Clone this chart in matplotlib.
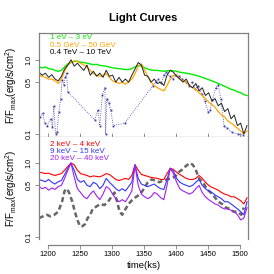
import numpy as np
import matplotlib
matplotlib.use("Agg")
import matplotlib.pyplot as plt

plt.rcParams['font.family'] = ['Liberation Sans', 'DejaVu Sans']
plt.rcParams['mathtext.fontset'] = 'custom'
plt.rcParams['mathtext.rm'] = 'Liberation Sans'
plt.rcParams['mathtext.it'] = 'Liberation Sans'

# общая сетка времени (ks)
time = np.arange(1186, 1512, 5)

# верхняя панель
optical = [0.8, 0.78, 0.8, 0.76, 0.75, 0.72, 0.7, 0.72, 0.8, 0.88, 0.92,
           0.95, 0.96, 0.93, 0.92, 0.9, 0.88, 0.86, 0.87, 0.84, 0.83, 0.82,
           0.8, 0.78, 0.77, 0.76, 0.75, 0.74, 0.74, 0.76, 0.8, 0.84, 0.82,
           0.78, 0.75, 0.73, 0.72, 0.72, 0.71, 0.7, 0.71, 0.72, 0.71, 0.7,
           0.68, 0.67, 0.66, 0.65, 0.63, 0.62, 0.6, 0.58, 0.56, 0.54, 0.52,
           0.5, 0.48, 0.46, 0.44, 0.42, 0.4, 0.39, 0.37, 0.36, 0.34, 0.33]
gev = [0.62, 0.6, 0.58, 0.55, 0.55, 0.52, 0.48, 0.55, 0.7, 0.85, 0.92,
       0.97, 0.95, 0.9, 0.85, 0.8, 0.72, 0.65, 0.62, 0.6, 0.62, 0.65,
       0.58, 0.52, 0.5, 0.48, 0.5, 0.47, 0.5, 0.55, 0.65, 0.82, 0.88,
       0.72, 0.6, 0.5, 0.45, 0.42, 0.4, 0.38, 0.45, 0.55, 0.62, 0.62,
       0.55, 0.52, 0.5, 0.45, 0.42, 0.4, 0.36, 0.33, 0.3, 0.27, 0.25,
       0.23, 0.2, 0.18, 0.17, 0.15, 0.14, 0.13, 0.12, 0.11, 0.1, 0.11]
tev = [0.68, 0.62, 0.66, 0.58, 0.63, 0.55, 0.52, 0.6, 0.75, 0.85, 1.0,
       0.82, 0.9, 0.8, 0.72, 0.85, 0.62, 0.7, 0.6, 0.66, 0.58, 0.72,
       0.6, 0.62, 0.5, 0.58, 0.5, 0.55, 0.5, 0.62, 0.75, 0.92, 0.85,
       0.62, 0.6, 0.5, 0.55, 0.48, 0.5, 0.45, 0.62, 0.72, 0.68, 0.6,
       0.55, 0.5, 0.55, 0.45, 0.42, 0.48, 0.38, 0.42, 0.33, 0.36, 0.28,
       0.3, 0.24, 0.26, 0.2, 0.22, 0.16, 0.18, 0.13, 0.14, 0.1, 0.13]

obs_t = [1187, 1192, 1195, 1199, 1204, 1207, 1209, 1212, 1214, 1217, 1220,
         1222, 1225, 1227, 1229, 1231, 1273, 1278, 1281, 1285, 1289, 1290,
         1292, 1295, 1298, 1302, 1320, 1364, 1368, 1372, 1377, 1381, 1385,
         1390, 1395, 1400, 1405, 1410, 1415, 1420, 1425, 1430, 1435, 1440,
         1445, 1450, 1453, 1457, 1462, 1466, 1470, 1475, 1480, 1487, 1497,
         1505]
obs_v = [0.17, 0.19, 0.14, 0.13, 0.16, 0.125, 0.24, 0.1, 0.105, 0.2, 0.3,
         0.54, 0.46, 0.59, 0.67, 0.37, 0.155, 0.21, 0.13, 0.34, 0.42, 0.1,
         0.3, 0.26, 0.21, 0.13, 0.14, 0.45, 0.5, 0.55, 0.48, 0.62, 0.69,
         0.6, 0.55, 0.62, 0.6, 0.55, 0.5, 0.45, 0.5, 0.4, 0.45, 0.35,
         0.28, 0.2, 0.21, 0.29, 0.42, 0.46, 0.3, 0.13, 0.12, 0.105, 0.1,
         0.097]

# нижняя панель
soft = [0.75, 0.74, 0.72, 0.73, 0.7, 0.68, 0.7, 0.72, 0.8, 0.9, 1.0,
        0.95, 0.8, 0.72, 0.7, 0.68, 0.65, 0.67, 0.66, 0.65, 0.68, 0.72,
        0.7, 0.65, 0.6, 0.58, 0.6, 0.62, 0.6, 0.68, 0.95, 0.8, 0.7,
        0.68, 0.66, 0.64, 0.63, 0.62, 0.6, 0.6, 0.72, 0.85, 0.82, 0.75,
        0.7, 0.66, 0.62, 0.6, 0.6, 0.62, 0.68, 0.62, 0.55, 0.5, 0.47,
        0.45, 0.43, 0.4, 0.38, 0.37, 0.35, 0.35, 0.33, 0.31, 0.28, 0.34]
medium = [0.6, 0.58, 0.56, 0.6, 0.55, 0.52, 0.56, 0.58, 0.7, 0.85, 1.0,
          0.8, 0.6, 0.55, 0.58, 0.5, 0.48, 0.55, 0.52, 0.45, 0.5, 0.62,
          0.55, 0.5, 0.45, 0.42, 0.45, 0.42, 0.48, 0.55, 0.95, 0.62, 0.52,
          0.5, 0.48, 0.5, 0.52, 0.48, 0.45, 0.44, 0.6, 0.85, 0.78, 0.62,
          0.55, 0.52, 0.5, 0.48, 0.5, 0.55, 0.6, 0.5, 0.45, 0.42, 0.4,
          0.37, 0.35, 0.33, 0.3, 0.3, 0.28, 0.26, 0.24, 0.22, 0.2, 0.3]
hard = [0.48, 0.45, 0.47, 0.43, 0.46, 0.44, 0.48, 0.5, 0.62, 0.8, 1.0,
        0.65, 0.45, 0.4, 0.35, 0.33, 0.38, 0.42, 0.36, 0.32, 0.38, 0.48,
        0.45, 0.38, 0.33, 0.3, 0.32, 0.3, 0.35, 0.42, 0.93, 0.5, 0.38,
        0.35, 0.33, 0.35, 0.4, 0.38, 0.34, 0.32, 0.5, 0.85, 0.72, 0.55,
        0.45, 0.42, 0.4, 0.38, 0.4, 0.45, 0.5, 0.4, 0.35, 0.32, 0.3,
        0.28, 0.27, 0.25, 0.24, 0.24, 0.23, 0.22, 0.2, 0.17, 0.18, 0.25]

gray_t = [1186, 1192, 1198, 1204, 1210, 1216, 1222, 1226, 1230, 1234, 1238,
          1242, 1246, 1250, 1254, 1258, 1262, 1266, 1270, 1276, 1282, 1288,
          1294, 1300, 1304, 1308, 1312, 1316, 1320, 1326, 1332, 1338, 1344,
          1350, 1356, 1362, 1368, 1374, 1380, 1386, 1392, 1398, 1404, 1410,
          1416, 1422, 1426, 1430, 1436, 1442, 1448, 1454, 1460, 1466, 1472,
          1478, 1484, 1490, 1496, 1502, 1506]
gray_v = [0.18, 0.19, 0.2, 0.19, 0.2, 0.22, 0.3, 0.42, 0.45, 0.38, 0.3,
          0.22, 0.17, 0.14, 0.14, 0.15, 0.18, 0.2, 0.24, 0.26, 0.28, 0.27,
          0.3, 0.36, 0.4, 0.3, 0.22, 0.2, 0.23, 0.28, 0.32, 0.35, 0.38,
          0.45, 0.55, 0.6, 0.58, 0.55, 0.58, 0.6, 0.62, 0.65, 0.75, 0.82,
          0.92, 1.0, 0.95, 0.85, 0.62, 0.55, 0.45, 0.4, 0.35, 0.3, 0.28,
          0.25, 0.24, 0.22, 0.22, 0.2, 0.25]

xticks = [1200, 1250, 1300, 1350, 1400, 1450, 1500]
yticks = [0.1, 0.5, 1.0]
ylab = r'F/F$_{\mathrm{max}}$(erg/s/cm$^{\mathrm{2}}$)'
frame = '#808080'

W = 274.0
fig = plt.figure(figsize=(2.74, 2.74), dpi=100)
ax1 = fig.add_axes([39 / W, 1 - 137 / W, 209 / W, 104 / W])
ax2 = fig.add_axes([39 / W, 1 - 239 / W, 209 / W, 102 / W])

for ax in (ax1, ax2):
    ax.set_yscale('log')
    ax.set_xlim(1186, 1512.5)
    ax.set_yticks(yticks)
    ax.set_yticklabels(['0.1', '0.5', '1.0'], rotation=90, va='center', fontsize=5.2)
    ax.yaxis.set_minor_locator(matplotlib.ticker.NullLocator())
    ax.tick_params(axis='y', length=3, width=0.6, color=frame, pad=1.5)
    for s in ax.spines.values():
        s.set_color(frame)
        s.set_linewidth(0.9)
    ax.set_ylabel(ylab, fontsize=7)
    ax.yaxis.set_label_coords(-0.095, 0.5)

ax1.set_ylim(0.091, 2.3)
ax2.set_ylim(0.094, 2.25)

ax1.set_xticks(xticks)
ax1.set_xticklabels([])
ax1.tick_params(axis='x', direction='in', length=3, width=0.6, color=frame)

ax2.spines['top'].set_visible(False)
ax2.spines['bottom'].set_position(('outward', 4))
ax2.spines['bottom'].set_bounds(1200, 1500)
ax2.set_xticks(xticks)
ax2.set_xticklabels([str(t) for t in xticks], fontsize=5.5)
ax2.tick_params(axis='x', length=3, width=0.6, color=frame, pad=2)
ax2.set_xlabel('time(ks)', fontsize=6.8, labelpad=2)

# верх
ax1.plot(obs_t, obs_v, color='#3a3aa8', lw=0.6, ls=':', marker='s', ms=1.3, mec='none')
ax1.plot(time, optical, color='#00ee00', lw=1.0)
ax1.plot(time, gev, color='#ffa500', lw=0.9)
ax1.plot(time, tev, color='#222222', lw=0.7)

# низ
ax2.plot(gray_t, gray_v, color='#666666', lw=1.8, ls=(0, (2, 1.2)))
ax2.plot(time, soft, color='#ff0000', lw=0.8)
ax2.plot(time, medium, color='#3333ff', lw=0.8)
ax2.plot(time, hard, color='#a020f0', lw=0.8)

top_labels = [('1 eV \u2013 3 eV', '#00ee00'), ('0.5 GeV \u2013 50 GeV', '#ffa500'),
              ('0.4 TeV \u2013 10 TeV', '#000000')]
bot_labels = [('2 keV \u2013 4 keV', '#ff0000'), ('9 keV \u2013 15 keV', '#3333ff'),
              ('20 keV \u2013 40 keV', '#a020f0')]
for i, (txt, c) in enumerate(top_labels):
    fig.text(50 / W, 1 - (38 + 7.5 * i) / W, txt, color=c, fontsize=5.8, va='center')
for i, (txt, c) in enumerate(bot_labels):
    fig.text(50 / W, 1 - (144 + 7.5 * i) / W, txt, color=c, fontsize=5.8, va='center')

fig.text(143 / W, 1 - 18 / W, 'Light Curves', fontsize=8, fontweight='bold',
         ha='center', va='center')

fig.savefig('out.png', dpi=100)
